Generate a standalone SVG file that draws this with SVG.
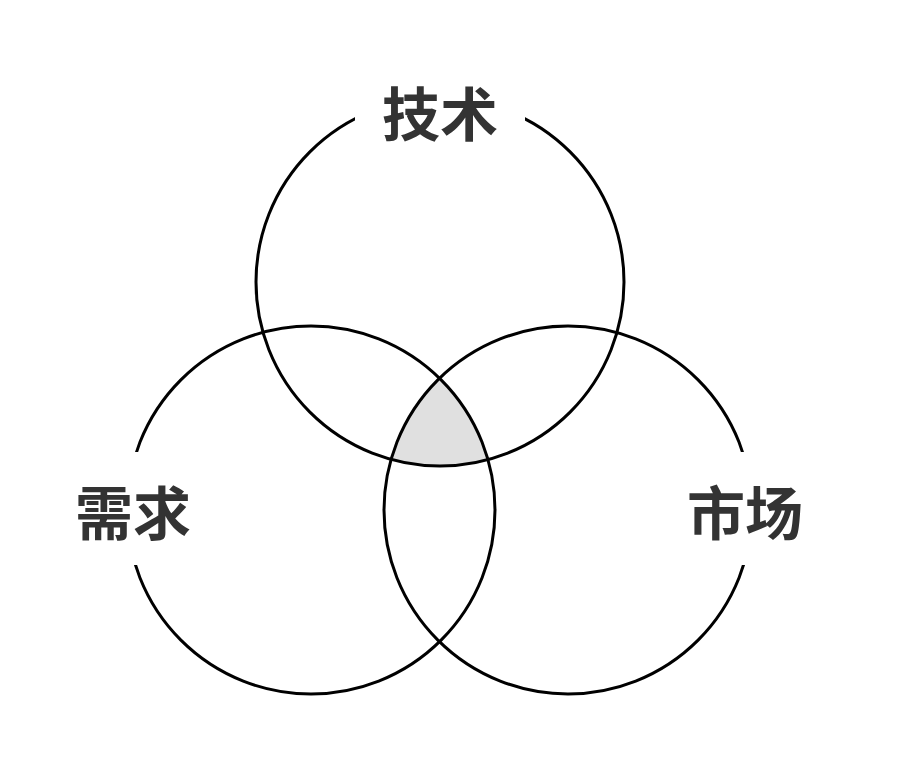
<svg xmlns="http://www.w3.org/2000/svg" width="900" height="760" viewBox="0 0 900 760">
<style>
.c{fill:none;stroke:#000;stroke-width:3}
.t{font-family:"Noto Sans CJK SC",sans-serif;font-weight:bold;font-size:58px;fill:#333;text-anchor:middle}
.m{fill:#fff}
</style>
<rect width="900" height="760" fill="#fff"/>
<g id="overlap"><path d="M439.5,378.3 A184 184 0 0 1 487.9,459.6 A184 184 0 0 1 392,459.6 A184 184 0 0 1 439.5,378.3 Z" fill="#e0e0e0"/></g>
<g id="connectors">
<circle id="c-tech" class="c" cx="440" cy="282" r="184"/>
<circle id="c-need" class="c" cx="311" cy="510" r="184"/>
<circle id="c-market" class="c" cx="568" cy="510" r="184"/>
</g>
<rect class="m" x="355" y="80" width="170" height="60"/>
<rect class="m" x="100" y="452" width="70" height="113"/>
<rect class="m" x="720" y="452" width="70" height="113"/>
<g id="n-tech"><text class="t" x="440" y="136">技术</text></g>
<g id="n-need"><text class="t" x="133" y="535">需求</text></g>
<g id="n-market"><text class="t" x="745" y="535">市场</text></g>
</svg>
